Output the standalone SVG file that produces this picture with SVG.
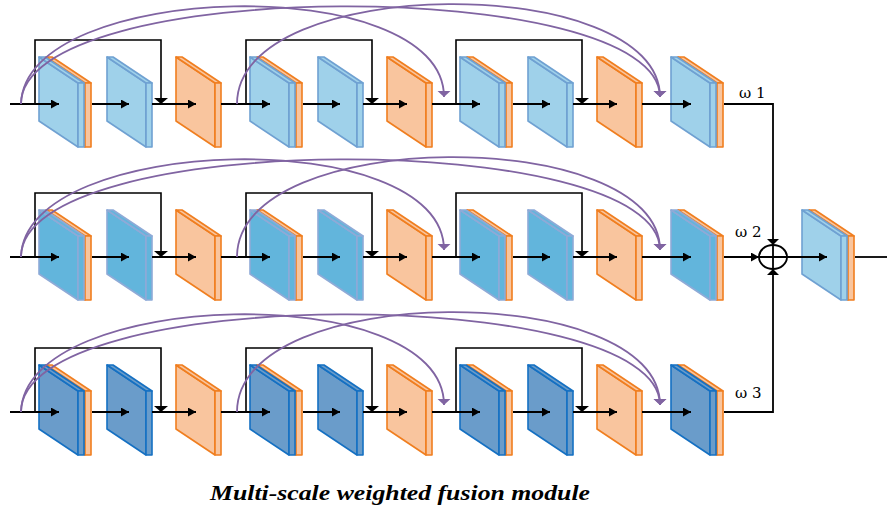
<svg xmlns="http://www.w3.org/2000/svg" xmlns:xlink="http://www.w3.org/1999/xlink" width="887" height="508" viewBox="0 0 887 508">
<style>
.b1{fill:#9fd1ea;stroke:#6fa1d2;stroke-width:1.6}
.b2{fill:#62b5dc;stroke:#8eaad7;stroke-width:1.6}
.b3{fill:#6a9cca;stroke:#1570c2;stroke-width:1.6}
.or{fill:#f9c59e;stroke:#f07e1f;stroke-width:1.6}
.ln{fill:none;stroke:#000;stroke-width:1.8}
.arr{marker-end:url(#ah)}
.skip{fill:none;stroke:#000;stroke-width:1.6;marker-end:url(#sk)}
.arc{fill:none;stroke:#8064a2;stroke-width:1.8;marker-end:url(#pa)}
.w{font-family:"DejaVu Serif","Liberation Serif",serif;font-size:15px;fill:#000}
.title{font-family:"Liberation Serif","DejaVu Serif",serif;font-weight:bold;font-style:italic;font-size:21px;fill:#000}
</style>
<defs>
<g id="slab" stroke-linejoin="round">
<path d="M0,0 L39,26 L39,90 L0,64 Z"/>
<path d="M0,0 L6,0 L45,26 L39,26 Z"/>
<path d="M39,26 L45,26 L45,90 L39,90 Z"/>
</g>
<marker id="ah" markerUnits="userSpaceOnUse" markerWidth="9" markerHeight="10" refX="8" refY="4.5" orient="auto"><path d="M0,0 L8,4.5 L0,9 Z" fill="#000"/></marker>
<marker id="sk" markerUnits="userSpaceOnUse" markerWidth="8" markerHeight="15" refX="6" refY="7" orient="auto"><path d="M0,0 L6,7 L0,14 Z" fill="#000"/></marker>
<marker id="fa" markerUnits="userSpaceOnUse" markerWidth="8" markerHeight="13" refX="6" refY="6" orient="auto"><path d="M0,0 L6,6 L0,12 Z" fill="#000"/></marker>
<marker id="pa" markerUnits="userSpaceOnUse" markerWidth="8" markerHeight="15" refX="6.5" refY="7" orient="auto"><path d="M0,0 L6.5,7 L0,14 Z" fill="#8064a2"/></marker>
</defs>

<!-- Row 1 nodes -->
<g id="r1-s1"><use xlink:href="#slab" x="46" y="57" class="or"/><use xlink:href="#slab" x="39" y="57" class="b1"/></g>
<g id="r1-b1"><use xlink:href="#slab" x="107" y="57" class="b1"/></g>
<g id="r1-o1"><use xlink:href="#slab" x="176" y="57" class="or"/></g>
<g id="r1-s2"><use xlink:href="#slab" x="257" y="57" class="or"/><use xlink:href="#slab" x="250" y="57" class="b1"/></g>
<g id="r1-b2"><use xlink:href="#slab" x="318" y="57" class="b1"/></g>
<g id="r1-o2"><use xlink:href="#slab" x="387" y="57" class="or"/></g>
<g id="r1-s3"><use xlink:href="#slab" x="467" y="57" class="or"/><use xlink:href="#slab" x="460" y="57" class="b1"/></g>
<g id="r1-b3"><use xlink:href="#slab" x="528" y="57" class="b1"/></g>
<g id="r1-o3"><use xlink:href="#slab" x="597" y="57" class="or"/></g>
<g id="r1-s4"><use xlink:href="#slab" x="678" y="57" class="or"/><use xlink:href="#slab" x="671" y="57" class="b1"/></g>

<!-- Row 2 nodes -->
<g id="r2-s1"><use xlink:href="#slab" x="46" y="210" class="or"/><use xlink:href="#slab" x="39" y="210" class="b2"/></g>
<g id="r2-b1"><use xlink:href="#slab" x="107" y="210" class="b2"/></g>
<g id="r2-o1"><use xlink:href="#slab" x="176" y="210" class="or"/></g>
<g id="r2-s2"><use xlink:href="#slab" x="257" y="210" class="or"/><use xlink:href="#slab" x="250" y="210" class="b2"/></g>
<g id="r2-b2"><use xlink:href="#slab" x="318" y="210" class="b2"/></g>
<g id="r2-o2"><use xlink:href="#slab" x="387" y="210" class="or"/></g>
<g id="r2-s3"><use xlink:href="#slab" x="467" y="210" class="or"/><use xlink:href="#slab" x="460" y="210" class="b2"/></g>
<g id="r2-b3"><use xlink:href="#slab" x="528" y="210" class="b2"/></g>
<g id="r2-o3"><use xlink:href="#slab" x="597" y="210" class="or"/></g>
<g id="r2-s4"><use xlink:href="#slab" x="678" y="210" class="or"/><use xlink:href="#slab" x="671" y="210" class="b2"/></g>

<!-- Row 3 nodes -->
<g id="r3-s1"><use xlink:href="#slab" x="46" y="365" class="or"/><use xlink:href="#slab" x="39" y="365" class="b3"/></g>
<g id="r3-b1"><use xlink:href="#slab" x="107" y="365" class="b3"/></g>
<g id="r3-o1"><use xlink:href="#slab" x="176" y="365" class="or"/></g>
<g id="r3-s2"><use xlink:href="#slab" x="257" y="365" class="or"/><use xlink:href="#slab" x="250" y="365" class="b3"/></g>
<g id="r3-b2"><use xlink:href="#slab" x="318" y="365" class="b3"/></g>
<g id="r3-o2"><use xlink:href="#slab" x="387" y="365" class="or"/></g>
<g id="r3-s3"><use xlink:href="#slab" x="467" y="365" class="or"/><use xlink:href="#slab" x="460" y="365" class="b3"/></g>
<g id="r3-b3"><use xlink:href="#slab" x="528" y="365" class="b3"/></g>
<g id="r3-o3"><use xlink:href="#slab" x="597" y="365" class="or"/></g>
<g id="r3-s4"><use xlink:href="#slab" x="678" y="365" class="or"/><use xlink:href="#slab" x="671" y="365" class="b3"/></g>

<!-- Fusion output node -->
<g id="fused"><use xlink:href="#slab" x="809" y="210" class="or"/><use xlink:href="#slab" x="802" y="210" class="b1"/></g>

<g id="sum">
<ellipse cx="773" cy="257" rx="14" ry="12" fill="none" stroke="#000" stroke-width="1.8"/>
<path d="M773,245 V269 M759,257 H787" class="ln"/>
</g>

<g id="connectors">
<g class="ln">
<path class="arr" d="M10,104 H59"/><path class="arr" d="M92,104 H129"/><path class="arr" d="M152,104 H196"/><path class="arr" d="M221,104 H270"/><path class="arr" d="M303,104 H340"/><path class="arr" d="M363,104 H407"/><path class="arr" d="M432,104 H480"/><path class="arr" d="M513,104 H550"/><path class="arr" d="M573,104 H617"/><path class="arr" d="M642,104 H691"/>
<path class="arr" d="M10,257 H59"/><path class="arr" d="M92,257 H129"/><path class="arr" d="M152,257 H196"/><path class="arr" d="M221,257 H270"/><path class="arr" d="M303,257 H340"/><path class="arr" d="M363,257 H407"/><path class="arr" d="M432,257 H480"/><path class="arr" d="M513,257 H550"/><path class="arr" d="M573,257 H617"/><path class="arr" d="M642,257 H691"/>
<path class="arr" d="M10,412 H59"/><path class="arr" d="M92,412 H129"/><path class="arr" d="M152,412 H196"/><path class="arr" d="M221,412 H270"/><path class="arr" d="M303,412 H340"/><path class="arr" d="M363,412 H407"/><path class="arr" d="M432,412 H480"/><path class="arr" d="M513,412 H550"/><path class="arr" d="M573,412 H617"/><path class="arr" d="M642,412 H691"/>
<path d="M724,104 H773 V245" marker-end="url(#fa)"/>
<path d="M724,412 H773 V269" marker-end="url(#fa)"/>
<path class="arr" d="M724,257 H759"/>
<path class="arr" d="M787,257 H827"/>
<path d="M855,257 H887"/>
</g>
<path class="skip" d="M35,104 V40 H161 V104"/><path class="skip" d="M246,104 V40 H372 V104"/><path class="skip" d="M456,104 V40 H582 V104"/>
<path class="skip" d="M35,257 V193 H161 V257"/><path class="skip" d="M246,257 V193 H372 V257"/><path class="skip" d="M456,257 V193 H582 V257"/>
<path class="skip" d="M35,412 V348 H161 V412"/><path class="skip" d="M246,412 V348 H372 V412"/><path class="skip" d="M456,412 V348 H582 V412"/>
<path class="arc" d="M21,104 C24,-20 444,-30 444,97"/>
<path class="arc" d="M21,104 C21,-25 660,-25 660,97"/>
<path class="arc" d="M237,104 C237,-28 660,-28 660,97"/>
<path class="arc" d="M21,257 C24,133 444,123 444,250"/>
<path class="arc" d="M21,257 C21,128 660,128 660,250"/>
<path class="arc" d="M237,257 C237,125 660,125 660,250"/>
<path class="arc" d="M21,412 C24,288 444,278 444,405"/>
<path class="arc" d="M21,412 C21,283 660,283 660,405"/>
<path class="arc" d="M237,412 C237,280 660,280 660,405"/>
</g>

<text class="w" x="739" y="98">ω 1</text>
<text class="w" x="735" y="237">ω 2</text>
<text class="w" x="735" y="398">ω 3</text>

<text class="title" x="210" y="500" textLength="380" lengthAdjust="spacingAndGlyphs">Multi-scale weighted fusion module</text>
</svg>
